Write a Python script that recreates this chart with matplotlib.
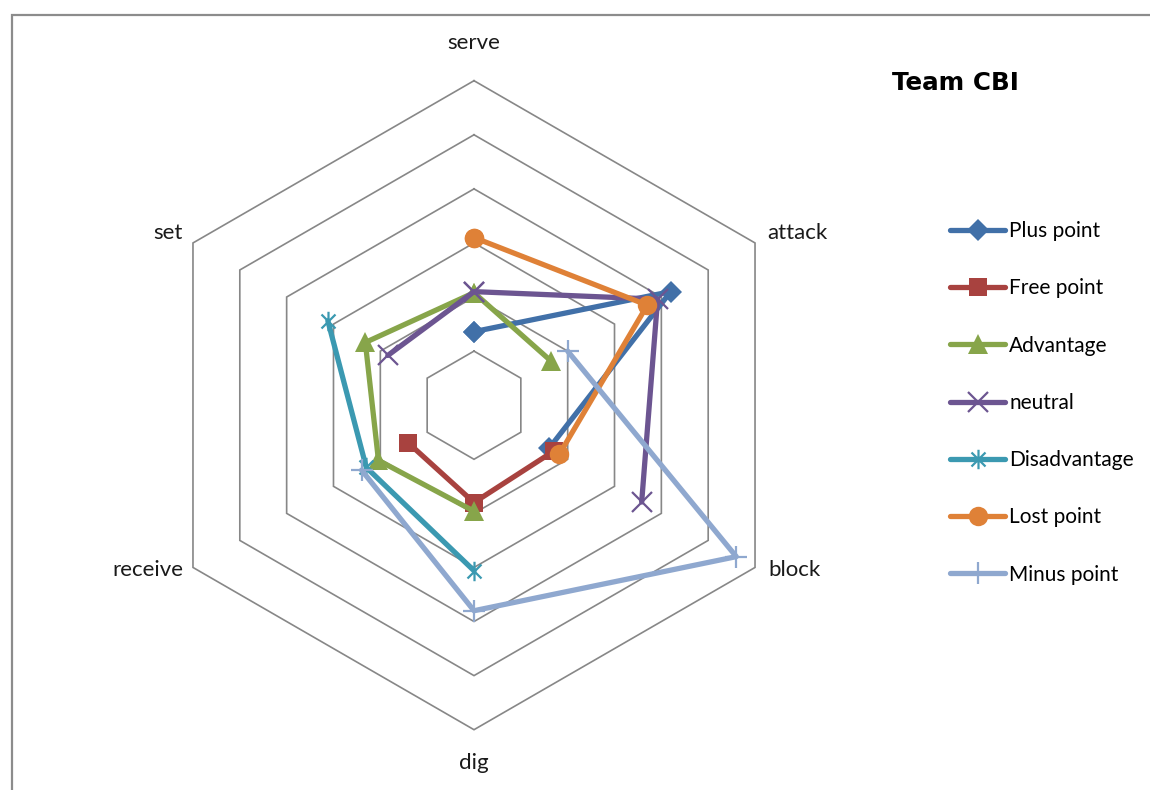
import numpy as np
import matplotlib
matplotlib.use("Agg")
import matplotlib.pyplot as plt
from matplotlib.lines import Line2D
from matplotlib.path import Path
from matplotlib.patches import Rectangle

# ---- data -----------------------------------------------------------------
categories = ["serve", "attack", "block", "dig", "receive", "set"]
nan = np.nan
plus_point   = [6.8, 21.0, 8.0, nan, nan, nan]
free_point   = [nan, nan, 8.5, 9.0, 7.0, nan]
advantage    = [10.4, 8.2, nan, 9.8, 10.2, 11.6]
neutral      = [10.5, 19.6, 17.9, nan, nan, 9.2]
disadvantage = [nan, nan, nan, 15.3, 11.5, 15.6]
lost_point   = [15.5, 18.5, 9.1, nan, nan, nan]
minus_point  = [nan, 10.0, 28.0, 19.0, 12.0, nan]

series_names = ["Plus point", "Free point", "Advantage", "neutral",
                "Disadvantage", "Lost point", "Minus point"]
series_values = [plus_point, free_point, advantage, neutral,
                 disadvantage, lost_point, minus_point]
title_text = "Team CBI"
r_max = 30
r_step = 5

# ---- styles ---------------------------------------------------------------
asterisk = Path([(0, -1), (0, 1), (-0.72, -0.72), (0.72, 0.72), (-0.72, 0.72), (0.72, -0.72)],
                [Path.MOVETO, Path.LINETO, Path.MOVETO, Path.LINETO, Path.MOVETO, Path.LINETO])
styles = [
    dict(color="#4170a8", marker="D", ms=11, mew=0),
    dict(color="#a8423f", marker="s", ms=13, mew=0),
    dict(color="#87a54a", marker="^", ms=14, mew=0),
    dict(color="#6c5591", marker="x", ms=14, mew=1.6),
    dict(color="#3b99b1", marker=asterisk, ms=14, mew=1.6),
    dict(color="#df8137", marker="o", ms=14, mew=0),
    dict(color="#8fa8cf", marker="+", ms=16, mew=1.6),
]

label_font = "Lato"
grid_color = "#878787"

W, H, DPI = 1150, 790, 100
fig = plt.figure(figsize=(W / DPI, H / DPI), dpi=DPI)
fig.patch.set_facecolor("white")

# plot area: centre at (474, 405) px, outer ring radius ~324.5 px
cx, cy, R_px = 474, 405.2, 324.5
scale = R_px / r_max
ax_l, ax_r, ax_t, ax_b = 100, 850, 20, 790
ax = fig.add_axes([ax_l / W, (H - ax_b) / H, (ax_r - ax_l) / W, (ax_b - ax_t) / H])
ax.set_xlim((ax_l - cx) / scale, (ax_r - cx) / scale)
ax.set_ylim((cy - ax_b) / scale, (cy - ax_t) / scale)
ax.axis("off")

n = len(categories)
theta = np.deg2rad(90 - 360.0 / n * np.arange(n))


def to_xy(vals):
    v = np.asarray(vals, dtype=float)
    v = np.append(v, v[0])
    t = np.append(theta, theta[0])
    return v * np.cos(t), v * np.sin(t)


# hexagonal gridlines
for r in np.arange(r_step, r_max + r_step / 2, r_step):
    gx, gy = to_xy([r] * n)
    ax.plot(gx, gy, color=grid_color, lw=1.2, zorder=1, solid_joinstyle="miter")

# category labels
label_offsets = {
    "serve": (0, 38, "center"),
    "attack": (12, 10, "left"),
    "block": (13, -3, "left"),
    "dig": (0, -33, "center"),
    "receive": (-10, -3, "right"),
    "set": (-10, 10, "right"),
}
for name, t in zip(categories, theta):
    dx, dy, ha = label_offsets[name]
    ax.annotate(name, (r_max * np.cos(t), r_max * np.sin(t)), xytext=(dx, dy),
                textcoords="offset pixels", ha=ha, va="center",
                fontsize=16, family=label_font, color="#1a1a1a")

# series
handles = []
for i, (name, vals, st) in enumerate(zip(series_names, series_values, styles)):
    x, y = to_xy(vals)
    fc = st["color"] if st["mew"] == 0 else "none"
    ax.plot(x, y, color=st["color"], lw=3.8, marker=st["marker"], ms=st["ms"],
            mew=st["mew"], mfc=fc, mec=st["color"], zorder=3 + i,
            solid_capstyle="round", solid_joinstyle="round")
    handles.append(Line2D([], [], color=st["color"], lw=3.8, marker=st["marker"],
                          ms=st["ms"], mew=st["mew"], mfc=fc, mec=st["color"],
                          solid_capstyle="round", label=name))

leg = fig.legend(handles=handles, loc="upper left",
                 bbox_to_anchor=(950 / W, 1 - 221 / H),
                 frameon=False, prop=dict(family=label_font, size=15),
                 handlelength=2.64, handletextpad=0.2, labelspacing=1.79,
                 borderpad=0, borderaxespad=0)

fig.text(892 / W, 1 - 83 / H, title_text, ha="left", va="center",
         fontsize=17.7, fontweight="bold", family="DejaVu Sans", color="black")

# chart-area border (top and left edges visible)
fig.patches.append(Rectangle((12 / W, -0.1), 1.2, 1.1 - 15 / H,
                             transform=fig.transFigure, fill=False,
                             edgecolor="#8c8c8c", lw=1.6))

fig.savefig("out.png", dpi=DPI)
